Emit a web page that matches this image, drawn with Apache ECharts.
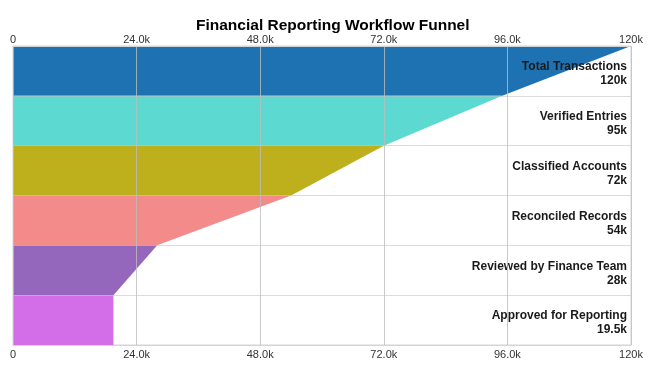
<!DOCTYPE html>
<html><head><meta charset="utf-8">
<script src="https://cdn.jsdelivr.net/npm/echarts@6/dist/echarts.min.js"></script>
<style>html,body{margin:0;padding:0;background:#fff}#c{width:650px;height:370px}</style>
</head><body><div id="c"></div>
<script>
var stages = ['Total Transactions','Verified Entries','Classified Accounts','Reconciled Records','Reviewed by Finance Team','Approved for Reporting'];
var values = [120000, 95000, 72000, 54000, 28000, 19500];
var colors = ['#1f72b2','#5cd9d1','#bdb01c','#f48b8b','#9467bd','#d46ee8'];
var tickValues = [0, 24000, 48000, 72000, 96000, 120000];

function tickFmt(v){ if(v===0) return '0'; var k=v/1000; return (k>=100? k.toFixed(0): k.toFixed(1))+'k'; }
function valFmt(v){ return (Math.round(v/100)/10)+'k'; }

var data = stages.map(function(s,i){ return [values[i], i, i+1<values.length ? values[i+1] : values[i]]; });
var FONT = 'Arial, "Liberation Sans", sans-serif';

var chart = echarts.init(document.getElementById('c'), null, {renderer:'canvas'});
function xAx(pos, margin){
  return {
    type:'value', position:pos, min:0, max:120000, interval:24000, z:5,
    axisLine:{show:true, lineStyle:{color:'#d4d4d4'}},
    axisTick:{show:false},
    splitLine:{show:true, lineStyle:{color:'rgba(190,190,190,0.55)', width:1}},
    axisLabel:{color:'#333', fontSize:11, fontFamily:FONT, margin:margin, formatter:tickFmt, showMinLabel:true, showMaxLabel:true}
  };
}
chart.setOption({
  animation:false,
  title:{text:'Financial Reporting Workflow Funnel', left:191, top:13,
    textStyle:{fontSize:15.5, fontWeight:'bold', color:'#000', fontFamily:FONT}},
  grid:{left:13, right:19, top:46, bottom:25, show:true, borderColor:'#d4d4d4', borderWidth:1, containLabel:false},
  xAxis:[xAx('top', 1), xAx('bottom', 4)],
  yAxis:{type:'category', data:stages, inverse:true, z:5,
    axisLine:{show:false}, axisTick:{show:false}, axisLabel:{show:false},
    splitLine:{show:true, lineStyle:{color:'rgba(190,190,190,0.55)', width:1}}},
  series:[{
    type:'custom', xAxisIndex:0, yAxisIndex:0, z:2,
    encode:{x:0, y:1},
    data:data,
    renderItem:function(params, api){
      var i = api.value(1);
      var v = api.value(0), nv = api.value(2);
      var c = api.coord([0, i]);
      var h = api.size([0,1])[1];
      var y0 = c[1]-h/2, y1 = c[1]+h/2;
      var x0 = c[0];
      var xt = api.coord([v, i])[0];
      var xb = api.coord([nv, i])[0];
      var xr = api.coord([120000, i])[0];
      return {type:'group', children:[
        {type:'polygon', shape:{points:[[x0,y0],[xt,y0],[xb,y1],[x0,y1]]},
          style:{fill:colors[i], stroke:null}},
        {type:'text', z2:10, style:{x:xr-4, y:c[1]+3, text:stages[i]+'\n'+valFmt(v),
          align:'right', verticalAlign:'middle', fill:'#1a1a1a',
          font:'bold 12px '+FONT, lineHeight:14}}
      ]};
    }
  }]
});
</script></body></html>
